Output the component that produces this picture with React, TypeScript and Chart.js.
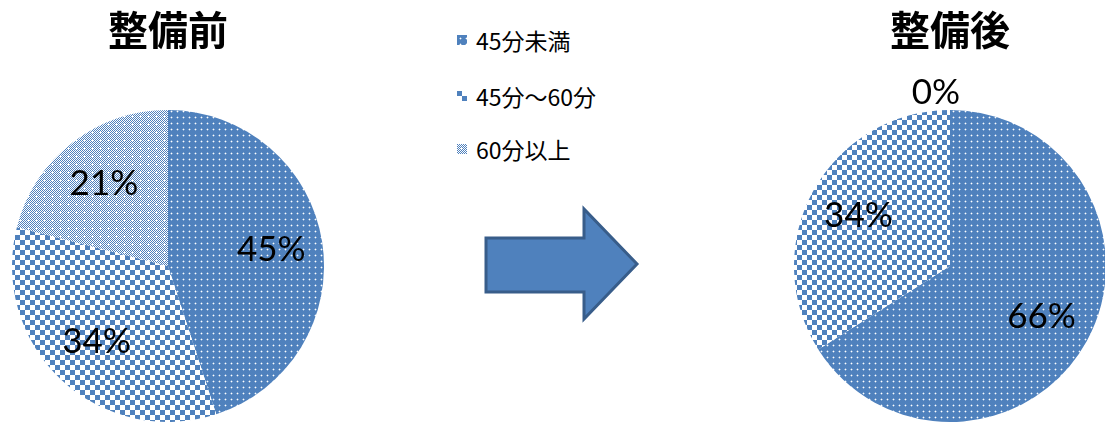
import React, { useEffect, useRef } from 'react';
import { Chart, registerables } from 'chart.js';

Chart.register(...registerables);

// ---- data ----
const categories = ['45分未満', '45分～60分', '60分以上'];
const beforeValues = [45, 34, 21];
const afterValues = [66, 34, 0];
const chartTitles = ['整備前', '整備後'];

const BLUE = '#4F81BD';
const CJK = "'Noto Sans CJK JP', 'Noto Sans', sans-serif";
const NUM = "Lato, 'Noto Sans', sans-serif";

function makeTileCanvas(kind: string): HTMLCanvasElement {
  const c = document.createElement('canvas');
  const ctx = c.getContext('2d')!;
  if (kind === 'dots') {
    c.width = 6; c.height = 6;
    ctx.fillStyle = BLUE; ctx.fillRect(0, 0, 6, 6);
    ctx.fillStyle = 'rgba(255,255,255,0.35)';
    ctx.fillRect(2, 3, 1, 1); ctx.fillRect(4, 3, 1, 1);
    ctx.fillRect(3, 2, 1, 1); ctx.fillRect(3, 4, 1, 1);
    ctx.fillStyle = '#ffffff';
    ctx.fillRect(3, 3, 1, 1);
  } else if (kind === 'checker') {
    c.width = 10; c.height = 10;
    ctx.fillStyle = '#ffffff'; ctx.fillRect(0, 0, 10, 10);
    ctx.fillStyle = BLUE;
    ctx.fillRect(0, 0, 5, 5); ctx.fillRect(5, 5, 5, 5);
  } else {
    c.width = 8; c.height = 8;
    ctx.fillStyle = '#ffffff'; ctx.fillRect(0, 0, 8, 8);
    ctx.fillStyle = BLUE;
    for (let y = 0; y < 8; y++) for (let x = 0; x < 8; x++) if ((x + y) % 2 === 0) ctx.fillRect(x, y, 1, 1);
    ctx.fillStyle = '#ffffff';
    ctx.fillRect(3, 4, 3, 1); ctx.fillRect(4, 3, 1, 3);
  }
  return c;
}

const patternKinds = ['dots', 'checker', 'light'];

function makePatterns(ctx: CanvasRenderingContext2D) {
  return patternKinds.map((k) => ctx.createPattern(makeTileCanvas(k), 'repeat')!);
}

function swatchURL(kind: string): string {
  const c = document.createElement('canvas');
  c.width = 10; c.height = 10;
  const ctx = c.getContext('2d')!;
  ctx.fillStyle = ctx.createPattern(makeTileCanvas(kind), 'repeat')!;
  ctx.fillRect(0, 0, 10, 10);
  return c.toDataURL();
}

const labelPlugin = {
  id: 'pctLabels',
  afterDatasetsDraw(chart: any) {
    const ctx = chart.ctx;
    const meta = chart.getDatasetMeta(0);
    const data = chart.data.datasets[0].data as number[];
    ctx.save();
    ctx.font = `35px ${NUM}`;
    ctx.fillStyle = '#000';
    ctx.textAlign = 'center';
    ctx.textBaseline = 'middle';
    meta.data.forEach((arc: any, i: number) => {
      const p = arc.getProps(['x', 'y', 'startAngle', 'endAngle', 'outerRadius'], true);
      const v = data[i];
      let x: number, y: number;
      if (v === 0) {
        x = p.x - 14;
        y = p.y - p.outerRadius - 17;
      } else {
        const mid = (p.startAngle + p.endAngle) / 2;
        const r = p.outerRadius * 0.67;
        x = p.x + Math.cos(mid) * r;
        y = p.y + Math.sin(mid) * r;
      }
      ctx.fillText(`${v}%`, x, y);
    });
    ctx.restore();
  },
};

function makePie(canvas: HTMLCanvasElement, values: number[], title: string) {
  const ctx = canvas.getContext('2d')!;
  const patterns = makePatterns(ctx);
  return new Chart(canvas, {
    type: 'pie',
    data: {
      labels: categories,
      datasets: [
        {
          data: values,
          backgroundColor: patterns as any,
          borderWidth: 0,
          hoverBorderWidth: 0,
          offset: 0,
          hoverOffset: 0,
        } as any,
      ],
    },
    options: {
      animation: false,
      responsive: false,
      devicePixelRatio: 1,
      events: [],
      layout: { padding: { left: 12, right: 12, top: 0, bottom: 1 } },
      plugins: {
        legend: { display: false },
        tooltip: { enabled: false },
        title: {
          display: true,
          text: title,
          color: '#000',
          font: { family: CJK, size: 40, weight: 'bold', lineHeight: 1.2 },
          padding: { top: 6, bottom: 56 },
        },
      },
    } as any,
    plugins: [labelPlugin],
  });
}

export default function App() {
  const leftRef = useRef<HTMLCanvasElement>(null);
  const rightRef = useRef<HTMLCanvasElement>(null);
  const [swatches, setSwatches] = React.useState<string[]>([]);

  useEffect(() => {
    const a = makePie(leftRef.current!, beforeValues, chartTitles[0]);
    const b = makePie(rightRef.current!, afterValues, chartTitles[1]);
    setSwatches(patternKinds.map(swatchURL));
    return () => {
      a.destroy();
      b.destroy();
    };
  }, []);

  const legendY = [40, 96, 149];

  return (
    <div
      style={{
        position: 'fixed',
        left: 0,
        top: 0,
        width: 1105,
        height: 423,
        overflow: 'hidden',
        background: '#fff',
      }}
    >
      <canvas ref={leftRef} width={336} height={423} style={{ position: 'absolute', left: 0, top: 0 }} />
      <canvas ref={rightRef} width={336} height={423} style={{ position: 'absolute', left: 782, top: 0 }} />
      {categories.map((c, i) => (
        <div
          key={c}
          style={{
            position: 'absolute',
            left: 457,
            top: legendY[i] - 15,
            height: 30,
            display: 'flex',
            alignItems: 'center',
            fontFamily: CJK,
            fontSize: 23,
            color: '#000',
            whiteSpace: 'nowrap',
          }}
        >
          <span
            style={{
              display: 'inline-block',
              width: 10,
              height: 10,
              marginRight: 9,
              backgroundImage: swatches[i] ? `url(${swatches[i]})` : 'none',
            }}
          />
          <span>{c}</span>
        </div>
      ))}
      <svg
        width={1105}
        height={423}
        style={{ position: 'absolute', left: 0, top: 0, pointerEvents: 'none' }}
      >
        <polygon
          points="486,238 584,238 584,209 637,264 584,319 584,292 486,292"
          fill={BLUE}
          stroke="#385D8A"
          strokeWidth={3}
          strokeLinejoin="miter"
        />
      </svg>
    </div>
  );
}
